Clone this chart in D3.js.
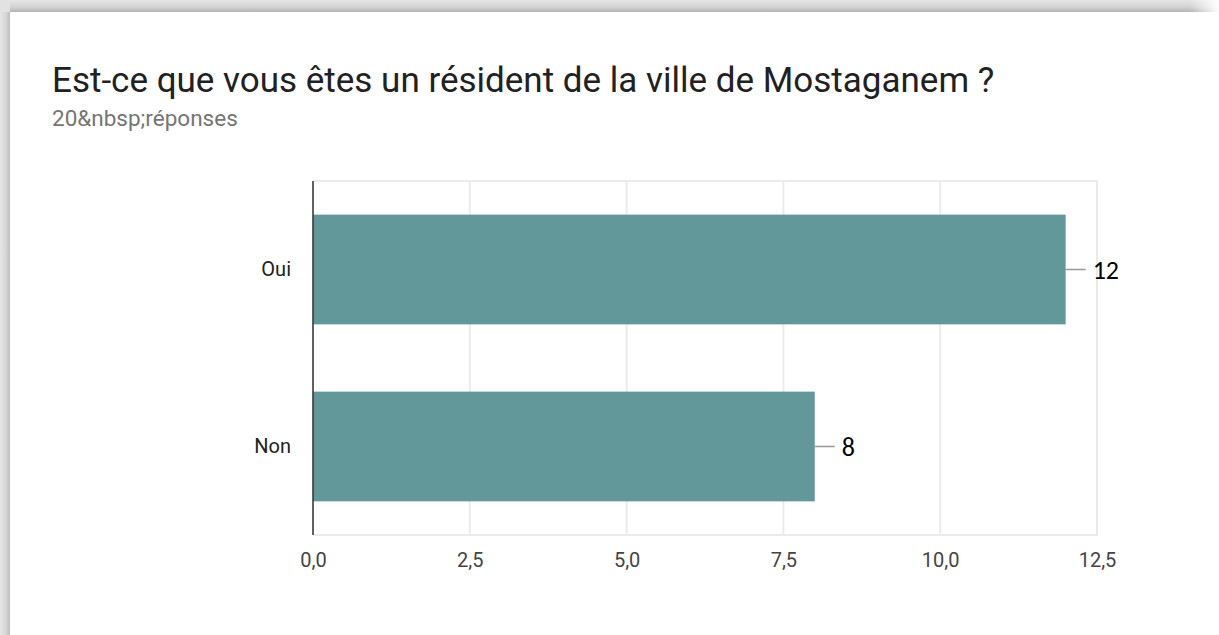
<!DOCTYPE html>
<html>
<head>
<meta charset="utf-8">
<script src="https://cdn.jsdelivr.net/npm/d3@7"></script>
<style>
  html, body { margin: 0; padding: 0; background: #fff; }
  svg { display: block; }
</style>
</head>
<body>
<svg id="chart" width="1219" height="635"></svg>
<script>
// Survey answers
const categories = ["Oui", "Non"];
const counts = [12, 8];
const xTicks = [0, 2.5, 5, 7.5, 10, 12.5];
const titleText = "Est-ce que vous êtes un résident de la ville de Mostaganem ?";
const subtitleText = "20&nbsp;réponses";

const svg = d3.select("#chart");
const W = 1219, H = 635;

// Card shadow along the top and left edges
const defs = svg.append("defs");
const gTop = defs.append("linearGradient").attr("id", "shTop").attr("x1", 0).attr("y1", 0).attr("x2", 0).attr("y2", 1);
gTop.append("stop").attr("offset", "0%").attr("stop-color", "#e6e6e6");
gTop.append("stop").attr("offset", "60%").attr("stop-color", "#d2d2d2");
gTop.append("stop").attr("offset", "100%").attr("stop-color", "#b4b4b4");
const gLeft = defs.append("linearGradient").attr("id", "shLeft").attr("x1", 0).attr("y1", 0).attr("x2", 1).attr("y2", 0);
gLeft.append("stop").attr("offset", "0%").attr("stop-color", "#e6e6e6");
gLeft.append("stop").attr("offset", "60%").attr("stop-color", "#d6d6d6");
gLeft.append("stop").attr("offset", "100%").attr("stop-color", "#bcbcbc");
const gFade = defs.append("linearGradient").attr("id", "fadeR").attr("x1", 0).attr("y1", 0).attr("x2", 1).attr("y2", 0);
gFade.append("stop").attr("offset", "0%").attr("stop-color", "#fff").attr("stop-opacity", 0);
gFade.append("stop").attr("offset", "100%").attr("stop-color", "#fff").attr("stop-opacity", 1);

svg.append("rect").attr("x", 0).attr("y", 0).attr("width", W).attr("height", 12).attr("fill", "url(#shTop)");
svg.append("rect").attr("x", 1190).attr("y", 0).attr("width", 29).attr("height", 12).attr("fill", "url(#fadeR)");
svg.append("rect").attr("x", 0).attr("y", 0).attr("width", 10).attr("height", H).attr("fill", "url(#shLeft)");
svg.append("rect").attr("x", 0).attr("y", 0).attr("width", 10).attr("height", 12).attr("fill", "#e2e2e2");

// Title and response count
svg.append("text")
  .attr("x", 52).attr("y", 92)
  .attr("font-family", "Roboto, sans-serif")
  .attr("font-size", 35)
  .attr("fill", "#212121")
  .text(titleText);
svg.append("text")
  .attr("x", 52).attr("y", 126)
  .attr("font-family", "Roboto, sans-serif")
  .attr("font-size", 22.5)
  .attr("fill", "#757575")
  .text(subtitleText);

// Plot area
const plotL = 313, plotR = 1097, plotT = 181, plotB = 535;

const x = d3.scaleLinear().domain([0, 12.5]).range([plotL, plotR]);
const y = d3.scaleBand().domain(categories).range([plotT, plotB]).paddingInner(0.38).paddingOuter(0.19);

const fmt = d => d3.format(".1f")(d).replace(".", ",");

// Vertical gridlines
svg.append("g")
  .selectAll("line")
  .data(xTicks)
  .join("line")
  .attr("x1", d => x(d)).attr("x2", d => x(d))
  .attr("y1", plotT).attr("y2", plotB)
  .attr("stroke", "#ebebeb").attr("stroke-width", 2);

// Top and bottom borders of the plot
svg.append("line").attr("x1", plotL).attr("x2", plotR + 1).attr("y1", plotT).attr("y2", plotT)
  .attr("stroke", "#ebebeb").attr("stroke-width", 2);
svg.append("line").attr("x1", plotL).attr("x2", plotR + 1).attr("y1", plotB).attr("y2", plotB)
  .attr("stroke", "#ebebeb").attr("stroke-width", 2);

// Bars
svg.append("g")
  .selectAll("rect")
  .data(categories)
  .join("rect")
  .attr("x", x(0))
  .attr("y", d => y(d))
  .attr("width", (d, i) => x(counts[i]) - x(0))
  .attr("height", y.bandwidth())
  .attr("fill", "#62989a");

// Baseline axis
svg.append("line").attr("x1", plotL).attr("x2", plotL).attr("y1", plotT).attr("y2", plotB)
  .attr("stroke", "#333").attr("stroke-width", 1.5);

// X tick labels
const xAxis = d3.axisBottom(x).tickValues(xTicks).tickFormat(fmt).tickSize(0).tickPadding(18);
const gx = svg.append("g").attr("transform", `translate(0,${plotB})`).call(xAxis);
gx.select(".domain").remove();
gx.selectAll("text")
  .attr("font-family", "Roboto, sans-serif")
  .attr("font-size", 20)
  .attr("fill", "#444");

// Category labels
const yAxis = d3.axisLeft(y).tickSize(0).tickPadding(22);
const gy = svg.append("g").attr("transform", `translate(${plotL},0)`).call(yAxis);
gy.select(".domain").remove();
gy.selectAll("text")
  .attr("font-family", "Roboto, sans-serif")
  .attr("font-size", 20)
  .attr("fill", "#222");

// Value leaders and labels
const lab = svg.append("g");
categories.forEach((c, i) => {
  const cy = y(c) + y.bandwidth() / 2;
  const xe = x(counts[i]);
  lab.append("line")
    .attr("x1", xe).attr("x2", xe + 20)
    .attr("y1", cy).attr("y2", cy)
    .attr("stroke", "#999").attr("stroke-width", 1.5);
  lab.append("text")
    .attr("x", xe + 27).attr("y", cy)
    .attr("dy", "0.36em")
    .attr("font-family", "Carlito, 'Open Sans', sans-serif")
    .attr("font-size", 26)
    .attr("fill", "#000")
    .text(counts[i]);
});
</script>
</body>
</html>
